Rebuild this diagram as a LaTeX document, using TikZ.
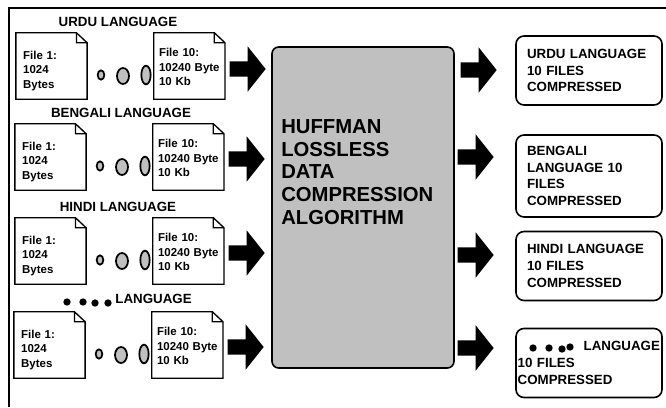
\documentclass[tikz,border=0pt]{standalone}
\usepackage{fontspec}
\setmainfont{Liberation Sans}
\usetikzlibrary{positioning,shapes.geometric,shapes.arrows}
\definecolor{BoxGray}{RGB}{192,192,192}
\tikzset{
  filebox/.style={minimum width=53pt,minimum height=49.5pt,inner xsep=3.75pt,inner ysep=0pt,
    text width=45.5pt,text height=8.2pt,align=left,font=\fontsize{8.6}{10.9}\selectfont\bfseries,
    append after command={\pgfextra{
      \draw[line width=1pt] (\tikzlastnode.north west) -- ([xshift=-8pt]\tikzlastnode.north east)
      -- ([yshift=-7.5pt]\tikzlastnode.north east) -- (\tikzlastnode.south east)
      -- (\tikzlastnode.south west) -- cycle
      ([xshift=-8pt]\tikzlastnode.north east) -- ([xshift=-8pt,yshift=-7.5pt]\tikzlastnode.north east)
      -- ([yshift=-7.5pt]\tikzlastnode.north east);}}},
  fileone/.style={filebox,text width=42.5pt,text height=13.7pt},
  dotoval/.style={ellipse,draw,fill=BoxGray,line width=1.3pt,inner sep=0pt},
  dotsmall/.style={dotoval,minimum width=5pt,minimum height=7pt},
  dotmid/.style={dotoval,minimum width=9pt,minimum height=12pt},
  dotbig/.style={dotoval,minimum width=7pt,minimum height=14pt},
  blob/.style={circle,fill=black,inner sep=0pt,minimum size=5.5pt},
  langlabel/.style={font=\fontsize{10}{12}\selectfont\bfseries,inner sep=0pt},
  blockarrow/.style={single arrow,fill=black,anchor=tip,inner xsep=0pt,inner ysep=5.6pt,
    minimum height=27pt,single arrow head extend=11.25pt,single arrow head indent=0pt,
    single arrow tip angle=103},
  algobox/.style={draw,fill=BoxGray,rounded corners=5pt,line width=1.2pt,
    minimum width=136.5pt,minimum height=240.75pt},
  algolabel/.style={anchor=west,inner sep=0pt,align=left,font=\fontsize{15.2}{17}\selectfont\bfseries},
  outbox/.style={draw,rounded corners=6pt,line width=1.2pt,minimum width=109.5pt,minimum height=51.75pt,
    inner xsep=8.25pt,inner ysep=0pt,text width=93pt,align=left,font=\fontsize{10}{12.5}\selectfont\bfseries}
}
\begin{document}
\begin{tikzpicture}[x=0.75pt,y=-0.75pt]
  \useasboundingbox (0,0) rectangle (666,407);
  \draw[line width=1.5pt] (9,407) -- (9,8) -- (666,8);

  % urdu
  \node[langlabel] (urdulabel) at (118,22) {URDU LANGUAGE};
  \node[fileone] (urduone) at (51.5,66) {File 1:\\1024\\Bytes};
  \node[filebox,right=50pt of urduone] (urduten) {File 10:\\10240 Byte\\10 Kb};
  \node[dotsmall] (urdua) at (101,75) {};
  \node[dotmid] (urdub) at (123,76) {};
  \node[dotbig] (urduc) at (146,75) {};
  \node[blockarrow] (urduin) at (266,69) {};

  % bengali
  \node[langlabel] (bengalilabel) at (121,113) {BENGALI LANGUAGE};
  \node[fileone] (bengalione) at (50.5,157) {File 1:\\1024\\Bytes};
  \node[filebox,right=50pt of bengalione] (bengaliten) {File 10:\\10240 Byte\\10 Kb};
  \node[dotsmall] (bengalia) at (100,166) {};
  \node[dotmid] (bengalib) at (122,167) {};
  \node[dotbig] (bengalic) at (145,166) {};
  \node[blockarrow] (bengaliin) at (265,159) {};

  % hindi
  \node[langlabel] (hindilabel) at (118,207) {HINDI LANGUAGE};
  \node[fileone] (hindione) at (50.5,251) {File 1:\\1024\\Bytes};
  \node[filebox,right=50pt of hindione] (hinditen) {File 10:\\10240 Byte\\10 Kb};
  \node[dotsmall] (hindia) at (100,260) {};
  \node[dotmid] (hindib) at (122,261) {};
  \node[dotbig] (hindic) at (145,260) {};
  \node[blockarrow] (hindiin) at (265,253) {};

  % other language
  \node[langlabel] (otherlabel) at (153.5,299) {LANGUAGE};
  \node[blob] (othera) at (67,302) {};
  \node[blob] (otherb) at (83,302) {};
  \node[blob] (otherc) at (95,303) {};
  \node[blob] (otherd) at (108,303) {};
  \node[fileone] (otherone) at (49.5,345) {File 1:\\1024\\Bytes};
  \node[filebox,right=50pt of otherone] (otherten) {File 10:\\10240 Byte\\10 Kb};
  \node[dotsmall] (otherp) at (99,354) {};
  \node[dotmid] (otherq) at (121,355) {};
  \node[dotbig] (otherr) at (144,354) {};
  \node[blockarrow] (otherin) at (264,347) {};

  \node[algobox] (huffman) at (363,207.5) {};
  \node[algolabel] (hufftext) at (281,172) {HUFFMAN\\LOSSLESS\\DATA\\COMPRESSION\\ALGORITHM};

  \node[blockarrow] (urduout) at (497,70) {};
  \node[blockarrow] (bengaliout) at (494,157) {};
  \node[blockarrow] (hindiout) at (494,255) {};
  \node[blockarrow] (otherout) at (494,348) {};

  \node[outbox] (urduzip) at (589,70.5) {URDU LANGUAGE\\10 FILES\\COMPRESSED};
  \node[outbox,minimum height=61.5pt] (bengalizip) at (589,176) {BENGALI\\LANGUAGE 10\\FILES\\COMPRESSED};
  \node[outbox] (hindizip) at (589,266) {HINDI LANGUAGE\\10 FILES\\COMPRESSED};
  \node[outbox,inner xsep=1.25pt,text width=107pt] (otherzip) at (589,363)
    {\hspace{49.5pt}\mbox{LANGUAGE}\\10 FILES\\COMPRESSED};
  \node[blob] (zipa) at (533,348) {};
  \node[blob] (zipb) at (549,348) {};
  \node[blob] (zipc) at (562,349) {};
  \node[blob] (zipd) at (570,347) {};
\end{tikzpicture}
\end{document}
